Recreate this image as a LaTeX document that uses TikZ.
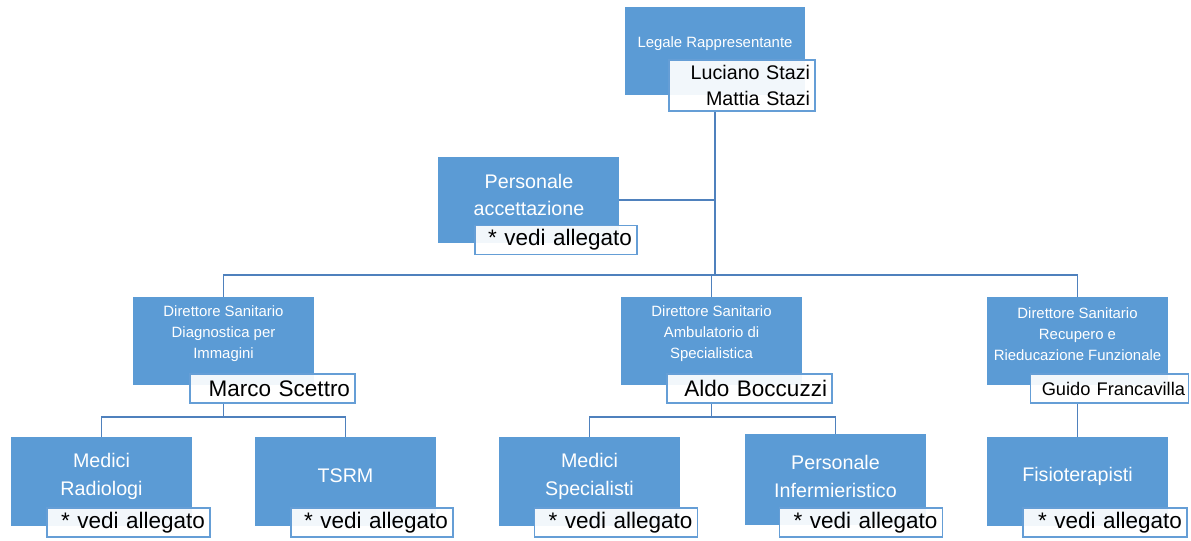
\documentclass[tikz,border=0pt]{standalone}
\usepackage{fontspec}
\setmainfont{Liberation Sans}
\usetikzlibrary{backgrounds}
\definecolor{boxblue}{RGB}{91,155,213}
\definecolor{lineblue}{RGB}{79,129,189}
\definecolor{edgeblue}{RGB}{101,158,214}

\begin{document}
\begin{tikzpicture}[x=0.025cm, y=-0.025cm,
    unit/.style={fill=boxblue, minimum width=4.5cm, minimum height=2.2cm, inner sep=0pt},
    unittext/.style={text=white, align=center, inner sep=0pt, font={\fontsize{14}{19.5}\selectfont}},
    smalltext/.style={unittext, font={\fontsize{10.6}{14.9}\selectfont}},
    namebox/.style={draw=edgeblue, line width=1pt, fill=white, fill opacity=0.92, text opacity=1,
        text width={#1-0.25cm}, align=right, minimum height=0.725cm, inner xsep=0.125cm, inner ysep=0pt,
        font={\fontsize{16}{19}\selectfont\spaceskip=0.55em\relax}},
    link/.style={draw=lineblue, line width=1.2pt}]

    \useasboundingbox (0,0) rectangle (1191,540);

    \node[unit] (lr) at (715,51) {};
    \node[smalltext] (lr-t) at (715,44) {Legale Rappresentante};
    \node[namebox=3.65cm, minimum height=1.275cm, font={\fontsize{14}{19.1}\selectfont}] (lrn) at (742,85.5) {Luciano Stazi\\Mattia Stazi};

    \node[unit, minimum height=2.15cm] (pa) at (528.5,200) {};
    \node[unittext] (pa-t) at (529,195) {Personale\\accettazione};
    \node[namebox=4.05cm] (pan) at (556,240) {* vedi allegato};

    \node[unit] (dsd) at (223.5,341) {};
    \node[smalltext] (dsd-t) at (223.5,334) {Direttore Sanitario\\Diagnostica per\\Immagini};
    \node[namebox=4.125cm] (dsdn) at (272.5,388.5) {Marco Scettro};

    \node[unit] (dsa) at (711.5,341) {};
    \node[smalltext] (dsa-t) at (711.5,334) {Direttore Sanitario\\Ambulatorio di\\Specialistica};
    \node[namebox=4.125cm] (dsan) at (749.5,388.5) {Aldo Boccuzzi};

    \node[unit] (dsr) at (1077.5,341) {};
    \node[smalltext] (dsr-t) at (1077.5,334) {Direttore Sanitario\\Recupero e\\Rieducazione Funzionale};
    \node[namebox=4.025cm, inner xsep=0.08cm, font={\fontsize{13}{16}\selectfont}] (dsrn) at (1109.5,388.5) {Guido Francavilla};

    \node[unit] (mr) at (101.5,481.5) {};
    \node[unittext] (mr-t) at (101.5,476.5) {Medici\\Radiologi};
    \node[namebox=4.075cm] (mrn) at (128.5,522.5) {* vedi allegato};

    \node[unit] (tsrm) at (345.5,481.5) {};
    \node[unittext] (tsrm-t) at (345.5,476) {TSRM};
    \node[namebox=4.05cm] (tsrmn) at (372,522.5) {* vedi allegato};

    \node[unit] (ms) at (589.5,481.5) {};
    \node[unittext] (ms-t) at (589.5,476.5) {Medici\\Specialisti};
    \node[namebox=4.075cm] (msn) at (616,522.5) {* vedi allegato};

    \node[unit, minimum height=2.275cm] (pi) at (835.5,479.5) {};
    \node[unittext] (pi-t) at (835.5,476.5) {Personale\\Infermieristico};
    \node[namebox=4.075cm] (pin) at (861,522.5) {* vedi allegato};

    \node[unit] (fis) at (1077.5,481.5) {};
    \node[unittext] (fis-t) at (1077.5,476) {Fisioterapisti};
    \node[namebox=4.1cm] (fisn) at (1105,522.5) {* vedi allegato};

    \begin{scope}[on background layer]
        \fill[white] (0,0) rectangle (1191,540);
        \coordinate (bus) at (715,275);
        \coordinate (busl) at (223.5,417);
        \coordinate (busm) at (711.5,417);
        \draw[link] (lr.center |- lrn.south) -- (bus);
        \draw[link] (pa.east) -- (pa.east -| bus);
        \draw[link] (dsd.north) |- (bus) -| (dsr.north);
        \draw[link] (dsa.north) -- (dsa.north |- bus);
        \draw[link] (dsd.center |- dsdn.south) -- (busl);
        \draw[link] (mr.north) |- (busl) -| (tsrm.north);
        \draw[link] (dsa.center |- dsan.south) -- (busm);
        \draw[link] (ms.north) |- (busm) -| (pi.north);
        \draw[link] (dsr.center |- dsrn.south) -- (fis.north);
    \end{scope}
\end{tikzpicture}
\end{document}
